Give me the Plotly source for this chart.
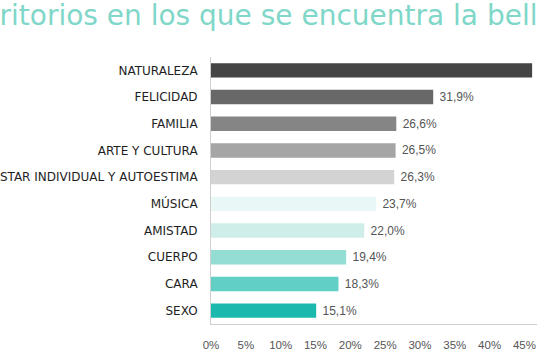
import plotly.graph_objects as go

title_text = "ritorios en los que se encuentra la bell"
categories = ["NATURALEZA", "FELICIDAD", "FAMILIA", "ARTE Y CULTURA",
              "STAR INDIVIDUAL Y AUTOESTIMA", "MÚSICA", "AMISTAD",
              "CUERPO", "CARA", "SEXO"]
values = [46.1, 31.9, 26.6, 26.5, 26.3, 23.7, 22.0, 19.4, 18.3, 15.1]
show_label = [False, True, True, True, True, True, True, True, True, True]
colors = ["#454545", "#686868", "#858585", "#a5a5a5", "#d3d3d3",
          "#e9f8f6", "#cfeeea", "#93ddd4", "#62cfc5", "#1bb8ad"]
tick_vals = [0, 5, 10, 15, 20, 25, 30, 35, 40, 45]
tick_text = [f"{v}%" for v in tick_vals]

labels = [("\u00a0" + f"{v:.1f}%".replace(".", ",") if s else "")
          for v, s in zip(values, show_label)]

fig = go.Figure(go.Bar(
    y=categories, x=values, orientation="h",
    marker=dict(color=colors, line=dict(width=0)),
    text=labels, textposition="outside", cliponaxis=False,
    textfont=dict(family="Liberation Sans", size=12, color="#555555"),
    hoverinfo="skip",
))

fig.update_layout(
    width=537, height=358,
    margin=dict(l=209, r=0, t=57, b=34),
    paper_bgcolor="white", plot_bgcolor="white",
    bargap=0.46,
    showlegend=False,
    title=dict(
        text=title_text, x=0.5, xref="container", xanchor="center",
        y=1 - 15 / 358, yref="container", yanchor="middle",
        font=dict(family="DejaVu Sans", size=28, color="#7fd7c9"),
    ),
)
fig.update_xaxes(
    range=[0, 46.8], tickvals=tick_vals, ticktext=tick_text,
    showgrid=False, zeroline=False, showline=True, linecolor="#cfcfcf", linewidth=1,
    tickfont=dict(family="Liberation Sans", size=11.5, color="#555555"),
    ticks="", ticklabelstandoff=10,
)
fig.update_yaxes(
    categoryorder="array", categoryarray=categories, autorange="reversed",
    showgrid=False, zeroline=False, showline=True, linecolor="#cfcfcf", linewidth=1,
    tickfont=dict(family="DejaVu Sans", size=12, color="#1e1e1e"),
    ticks="", ticklabelstandoff=10,
)

fig.write_html("out.html", config={"displayModeBar": False},
               post_script="document.body.style.margin='0px';")
